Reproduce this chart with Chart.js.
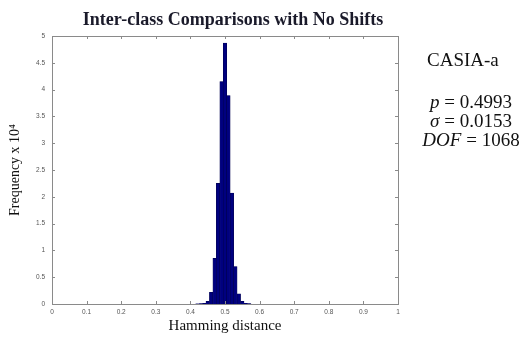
<!DOCTYPE html>
<html>
<head>
<meta charset="utf-8">
<script src="https://cdn.jsdelivr.net/npm/chart.js@4/dist/chart.umd.min.js"></script>
<style>
html,body{margin:0;padding:0;background:#fff;}
#wrap{position:relative;width:523px;height:338px;}
canvas{display:block;}
</style>
</head>
<body>
<div id="wrap"><canvas id="c" width="523" height="338"></canvas></div>
<script>
// Histogram bin centres (Hamming distance) and frequencies (x 10^4)
const binCenters = [0.42, 0.43, 0.44, 0.45, 0.46, 0.47, 0.48, 0.49, 0.50, 0.51, 0.52, 0.53, 0.54, 0.55, 0.56, 0.57];
const frequencies = [0.005, 0.008, 0.012, 0.05, 0.22, 0.85, 2.25, 4.15, 4.87, 3.89, 2.07, 0.70, 0.19, 0.05, 0.012, 0.006];
const xTickValues = [0, 0.1, 0.2, 0.3, 0.4, 0.5, 0.6, 0.7, 0.8, 0.9, 1];
const yTickValues = [0, 0.5, 1, 1.5, 2, 2.5, 3, 3.5, 4, 4.5, 5];
const titleText = 'Inter-class Comparisons with No Shifts';
const xTitle = 'Hamming distance';
const yTitle = 'Frequency x 10\u2074';
const statLabels = ['CASIA-a'];
const stats = [['p', ' = 0.4993'], ['\u03c3', ' = 0.0153'], ['DOF', ' = 1068']];

const points = binCenters.map((x, i) => ({x: x, y: frequencies[i]}));

const boxTicks = {
  id: 'boxTicks',
  afterDraw(chart) {
    const ctx = chart.ctx, a = chart.chartArea;
    const xs = chart.scales.x, ys = chart.scales.y;
    ctx.save();
    ctx.strokeStyle = '#8a8a8a';
    ctx.lineWidth = 1;
    ctx.strokeRect(Math.round(a.left) + 0.5, Math.round(a.top) + 0.5, Math.round(a.right - a.left), Math.round(a.bottom - a.top));
    ctx.beginPath();
    const L = 3;
    xTickValues.forEach(v => {
      const px = Math.round(xs.getPixelForValue(v)) + 0.5;
      ctx.moveTo(px, a.bottom); ctx.lineTo(px, a.bottom - L);
      ctx.moveTo(px, a.top); ctx.lineTo(px, a.top + L);
    });
    yTickValues.forEach(v => {
      const py = Math.round(ys.getPixelForValue(v)) + 0.5;
      ctx.moveTo(a.left, py); ctx.lineTo(a.left + L, py);
      ctx.moveTo(a.right, py); ctx.lineTo(a.right - L, py);
    });
    ctx.stroke();
    // title
    ctx.fillStyle = '#1a1a2a';
    ctx.font = 'bold 18px "Liberation Serif", "Times New Roman", serif';
    ctx.textAlign = 'center';
    ctx.textBaseline = 'middle';
    ctx.fillText(titleText, 233, 20);
    // annotation
    ctx.textAlign = 'left';
    ctx.fillStyle = '#111';
    ctx.font = '19px "Liberation Serif", serif';
    ctx.fillText(statLabels[0], 427, 61);
    stats.forEach((s, i) => {
      const y = 103 + i * 19;
      ctx.font = 'italic 19px "Liberation Serif", serif';
      const w1 = ctx.measureText(s[0]).width;
      ctx.font = '19px "Liberation Serif", serif';
      const w2 = ctx.measureText(s[1]).width;
      const x0 = 471 - (w1 + w2) / 2;
      ctx.font = 'italic 19px "Liberation Serif", serif';
      ctx.fillText(s[0], x0, y);
      ctx.font = '19px "Liberation Serif", serif';
      ctx.fillText(s[1], x0 + w1, y);
    });
    ctx.restore();
  }
};

new Chart(document.getElementById('c'), {
  type: 'bar',
  data: {
    datasets: [{
      data: points,
      backgroundColor: '#00007f',
      borderColor: '#000050',
      borderWidth: 0.6,
      barPercentage: 1,
      categoryPercentage: 1
    }]
  },
  options: {
    responsive: false,
    animation: false,
    devicePixelRatio: 1,
    layout: {padding: {left: 0, right: 125, top: 36, bottom: 0}},
    plugins: {legend: {display: false}, tooltip: {enabled: false}, title: {display: false}},
    scales: {
      x: {
        type: 'linear', min: 0, max: 1, offset: false,
        afterBuildTicks(s) { s.ticks = xTickValues.map(v => ({value: v})); },
        afterFit(s) { s.height = 34; },
        grid: {display: false, drawTicks: false, offset: false},
        border: {display: false},
        ticks: {
          padding: 4, maxRotation: 0, autoSkip: false,
          color: '#555',
          font: {family: 'Liberation Sans', size: 6.5},
          callback: v => String(v)
        },
        title: {
          display: true, text: xTitle, color: '#111',
          font: {family: 'Liberation Serif', size: 15},
          padding: {top: 0, bottom: 3}
        }
      },
      y: {
        type: 'linear', min: 0, max: 5,
        afterBuildTicks(s) { s.ticks = yTickValues.map(v => ({value: v})); },
        afterFit(s) { s.width = 52; },
        grid: {display: false, drawTicks: false},
        border: {display: false},
        ticks: {
          padding: 7, autoSkip: false,
          color: '#555',
          font: {family: 'Liberation Sans', size: 6.5},
          callback: v => String(v)
        },
        title: {
          display: true, text: yTitle, color: '#111',
          font: {family: 'Liberation Serif', size: 14},
          padding: {top: 7, bottom: 0}
        }
      }
    }
  },
  plugins: [boxTicks]
});
</script>
</body>
</html>
